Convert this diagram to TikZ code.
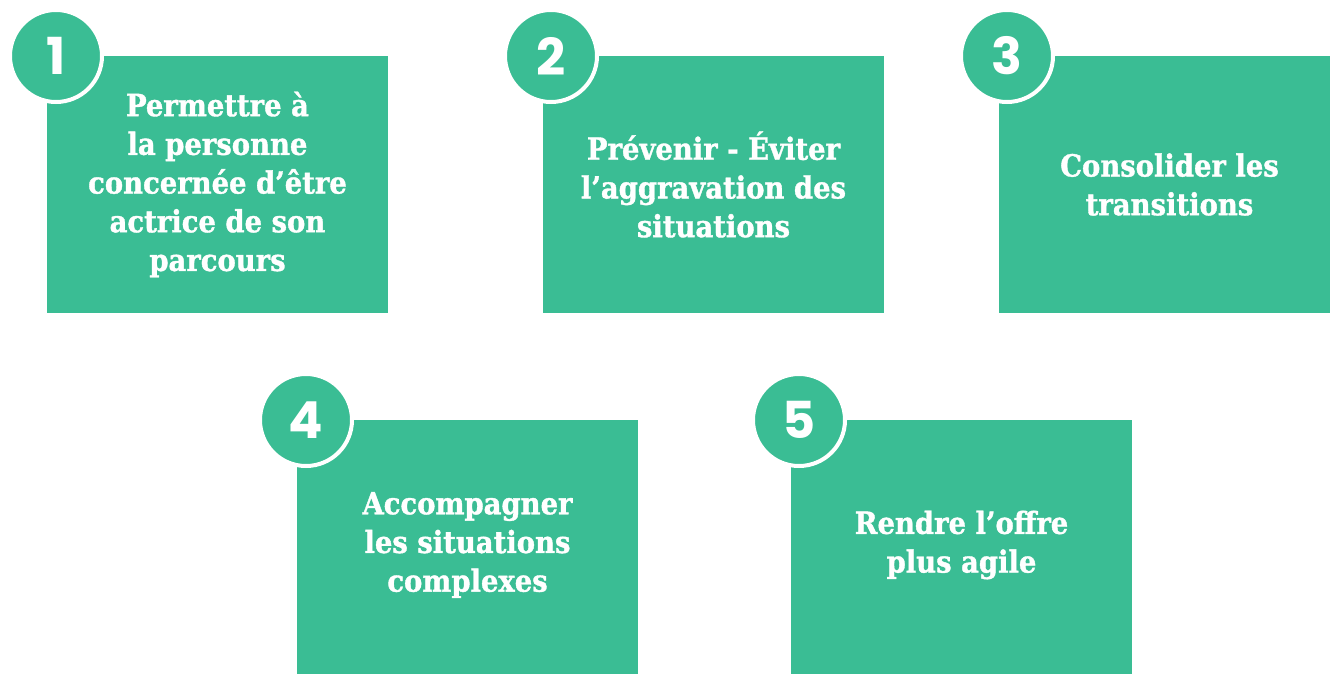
\documentclass[tikz,border=0pt]{standalone}
\usepackage{fontspec}
\newfontfamily\boxfont{DejaVu Serif Condensed}[BoldFeatures={FakeBold=1.2}]
\newfontfamily\numfont{Poppins}
\definecolor{tealgreen}{RGB}{58,189,148}
\begin{document}
\begin{tikzpicture}[x=1pt,y=-1pt,
  goalbox/.style={fill=tealgreen,draw=none,minimum width=341pt,minimum height=257pt,
    inner sep=0pt,outer sep=0pt,anchor=north west},
  goaltext/.style={text=white,align=center,font=\boxfont\bfseries\fontsize{30.5}{38.7}\selectfont},
  badge/.style={circle,fill=tealgreen,draw=white,line width=4pt,minimum size=92pt,
    inner sep=0pt,outer sep=0pt,text=white,font=\numfont\bfseries\fontsize{51}{51}\selectfont}
]
\useasboundingbox (0,0) rectangle (1330,674);

% top row
\node[goalbox] (b1) at (47,56) {};
\node[goalbox] (b2) at (543,56) {};
\node[goalbox,minimum width=331pt] (b3) at (999,56) {};
% bottom row
\node[goalbox,minimum height=254pt] (b4) at (297,420) {};
\node[goalbox,minimum height=254pt] (b5) at (791,420) {};

\node[goaltext] (t1) at (b1.center) {Permettre à\\la personne\\concernée d’être\\actrice de son\\parcours};
\node[goaltext] (t2) at (b2.center) {Prévenir - Éviter\\l’aggravation des\\situations};
\node[goaltext] (t3) at ([xshift=5pt]b3.center) {Consolider les\\transitions};
\node[goaltext] (t4) at ([yshift=2pt]b4.center) {Accompagner\\les situations\\complexes};
\node[goaltext] (t5) at ([yshift=2pt]b5.center) {Rendre l’offre\\plus agile};

\node[badge] (n1) at ([xshift=9pt]b1.north west) {1};
\node[badge] (n2) at ([xshift=8pt]b2.north west) {2};
\node[badge] (n3) at ([xshift=8pt]b3.north west) {3};
\node[badge] (n4) at ([xshift=9pt]b4.north west) {4};
\node[badge] (n5) at ([xshift=8pt]b5.north west) {5};
\end{tikzpicture}
\end{document}
